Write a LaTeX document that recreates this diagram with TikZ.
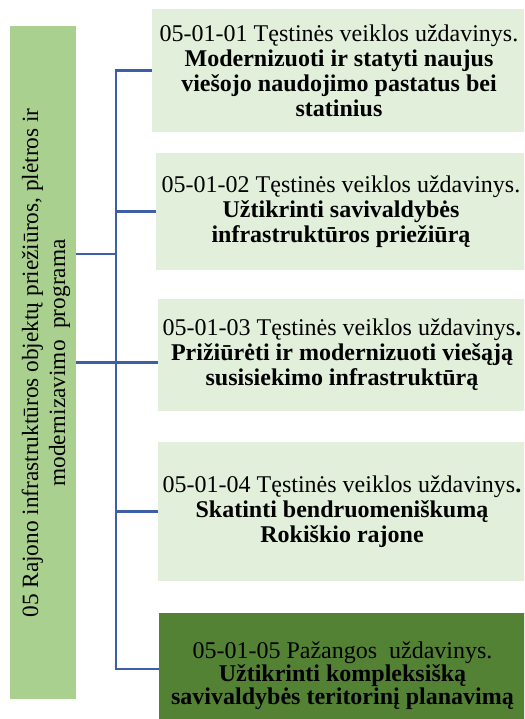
\documentclass[tikz,border=0pt]{standalone}
\usepackage{fontspec}
\setmainfont{Liberation Serif}
\usetikzlibrary{positioning,%
		calc}

\definecolor{zalia}{RGB}{169,208,142}
\definecolor{sviesi}{RGB}{226,239,218}
\definecolor{tamsi}{RGB}{84,130,53}
\definecolor{melyna}{RGB}{62,95,166}

\begin{document}
\begin{tikzpicture}[x=1pt,y=-1pt,
	uzd/.style={fill=sviesi,inner sep=0pt,align=center,
		font=\fontsize{24}{25}\selectfont},
	jung/.style={draw=melyna,line width=2.5pt}]
\useasboundingbox (0,0) rectangle (524,719);
\clip (0,0) rectangle (524,719);

%programa
\node[fill=zalia,minimum width=66pt,minimum height=673pt,inner sep=0pt] (programa) at (43,362.5) {};
\node[rotate=90,align=center,inner sep=0pt,font=\fontsize{23.3}{27}\selectfont] (pavadinimas) at (46,363)
	{05 Rajono infrastruktūros objektų priežiūros, plėtros ir\\ modernizavimo~ programa};

%uzdaviniai
\node[uzd,minimum width=374pt,minimum height=123pt] (u1) at (339,70.5)
	{05-01-01 Tęstinės veiklos uždavinys.\\ \textbf{Modernizuoti ir statyti naujus}\\ \textbf{viešojo naudojimo pastatus bei}\\ \textbf{statinius}};
\node[uzd,minimum width=370pt,minimum height=117pt] (u2) at (341,211.5)
	{05-01-02 Tęstinės veiklos uždavinys.\\ \textbf{Užtikrinti savivaldybės}\\ \textbf{infrastruktūros priežiūrą}};
\node[uzd,minimum width=368pt,minimum height=112pt] (u3) at (342,355)
	{05-01-03 Tęstinės veiklos uždavinys\textbf{.}\\ \textbf{Prižiūrėti ir modernizuoti viešąją}\\ \textbf{susisiekimo infrastruktūrą}};
\node[uzd,minimum width=368pt,minimum height=139pt] (u4) at (342,511.5)
	{05-01-04 Tęstinės veiklos uždavinys\textbf{.}\\ \textbf{Skatinti bendruomeniškumą}\\ \textbf{Rokiškio rajone}};
\node[uzd,fill=tamsi,font=\fontsize{24}{21}\selectfont,minimum width=367pt,minimum height=126pt] (u5) at (342.5,676)
	{05-01-05 Pažangos~ uždavinys.\\ \textbf{Užtikrinti kompleksišką}\\ \textbf{savivaldybės teritorinį planavimą}};

%jungtys
\coordinate (apacia) at (116,669);
\coordinate (saka) at (116,254);
\draw[jung] (u1.west) -| (apacia) -- (apacia -| u5.west);
\draw[jung] (u2.west) -- (u2.west -| apacia);
\draw[jung] (u4.west) -- (u4.west -| apacia);
\draw[jung] (programa.east) -- (programa.east -| u3.west);
\draw[jung] (saka -| programa.east) -- (saka);
\end{tikzpicture}
\end{document}
